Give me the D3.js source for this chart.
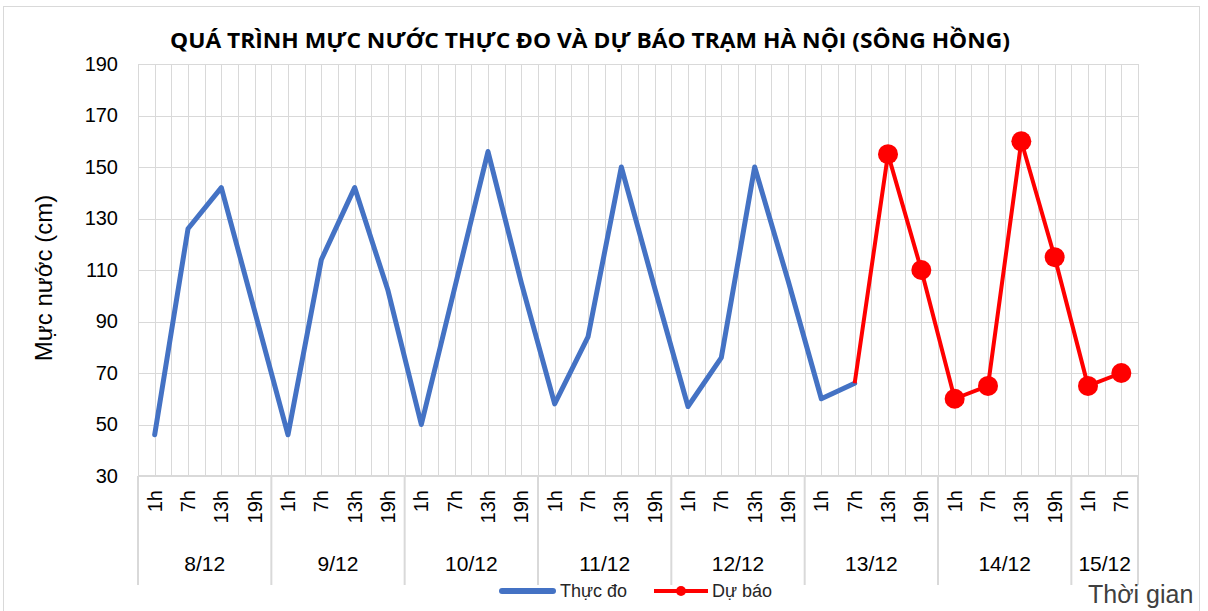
<!DOCTYPE html>
<html>
<head>
<meta charset="utf-8">
<script src="https://cdn.jsdelivr.net/npm/d3@7"></script>
<style>
  body { margin: 0; background: #fff; }
  svg { display: block; font-family: 'Liberation Sans', Arial, sans-serif; }
</style>
</head>
<body>
<main></main>
<script>
// data
const days = ['8/12', '9/12', '10/12', '11/12', '12/12', '13/12', '14/12', '15/12'];
const hoursPerDay = [4, 4, 4, 4, 4, 4, 4, 2];
const hourLabels = [
  '1h', '7h', '13h', '19h', '1h', '7h', '13h', '19h',
  '1h', '7h', '13h', '19h', '1h', '7h', '13h', '19h',
  '1h', '7h', '13h', '19h', '1h', '7h', '13h', '19h',
  '1h', '7h', '13h', '19h', '1h', '7h'
];
const observed = [46, 126, 142, 94, 46, 114, 142, 102, 50, 103, 156, 105,
                  58, 84, 150, 103, 57, 76, 150, 106, 60, 66];
// forecast begins right after the last observed point
const forecast = [155, 110, 60, 65, 160, 115, 65, 70];
const yTicks = [30, 50, 70, 90, 110, 130, 150, 170, 190];

const W = 1208, H = 611;
const plotLeft = 138, plotRight = 1138, plotTop = 64, plotBottom = 476;

const svg = d3.select('main').append('svg')
  .attr('width', W)
  .attr('height', H);

// outer chart frame
svg.append('rect')
  .attr('x', 3.5).attr('y', 6.5)
  .attr('width', 1196).attr('height', 640)
  .attr('fill', '#fff')
  .attr('stroke', '#d9d9d9');

const xScale = d3.scaleBand()
  .domain(d3.range(hourLabels.length))
  .range([plotLeft, plotRight]);
const bw = xScale.bandwidth();
const cx = i => xScale(i) + bw / 2;

const yScale = d3.scaleLinear()
  .domain([30, 190])
  .range([plotBottom, plotTop]);

// gridlines
const grid = svg.append('g').attr('stroke', '#d9d9d9').attr('stroke-width', 1);
grid.selectAll('.hg')
  .data(yTicks)
  .enter().append('line')
  .attr('x1', plotLeft).attr('x2', plotRight)
  .attr('y1', d => Math.round(yScale(d)) + 0.5)
  .attr('y2', d => Math.round(yScale(d)) + 0.5);

const vx = [];
hourLabels.forEach((h, i) => { vx.push(xScale(i)); vx.push(cx(i)); });
vx.push(plotRight);
grid.selectAll('.vg')
  .data(vx)
  .enter().append('line')
  .attr('x1', d => Math.round(d) + 0.5).attr('x2', d => Math.round(d) + 0.5)
  .attr('y1', plotTop).attr('y2', plotBottom);

// day separators in the category area
const dayStart = [0];
hoursPerDay.forEach((n, i) => dayStart.push(dayStart[i] + n));
const dayX = d => d < hourLabels.length ? xScale(d) : plotRight;
svg.append('g')
  .attr('stroke', '#d9d9d9').attr('stroke-width', 2)
  .selectAll('line')
  .data(dayStart)
  .enter().append('line')
  .attr('x1', dayX)
  .attr('x2', dayX)
  .attr('y1', plotBottom).attr('y2', 585);

svg.append('line')
  .attr('x1', plotLeft).attr('x2', plotRight)
  .attr('y1', plotBottom).attr('y2', plotBottom)
  .attr('stroke', '#d9d9d9').attr('stroke-width', 2);

// y axis labels
const yAxis = d3.axisLeft(yScale).tickValues(yTicks).tickSize(0).tickPadding(20);
const yG = svg.append('g')
  .attr('transform', `translate(${plotLeft}, 0)`)
  .call(yAxis);
yG.select('.domain').remove();
yG.selectAll('text')
  .attr('font-size', '20px')
  .attr('fill', '#000')
  .attr('font-family', "'Liberation Sans', Arial, sans-serif");

// hour labels (rotated)
svg.append('g')
  .selectAll('text')
  .data(hourLabels)
  .enter().append('text')
  .attr('transform', (d, i) => `translate(${cx(i)}, 490) rotate(-90)`)
  .attr('text-anchor', 'end')
  .attr('dy', '0.35em')
  .attr('font-size', '20px')
  .attr('fill', '#000')
  .text(d => d);

// day labels
svg.append('g')
  .selectAll('text')
  .data(days)
  .enter().append('text')
  .attr('x', (d, i) => (dayX(dayStart[i]) + dayX(dayStart[i + 1])) / 2)
  .attr('y', 571)
  .attr('text-anchor', 'middle')
  .attr('font-size', '21px')
  .attr('fill', '#000')
  .text(d => d);

// series
const line = d3.line()
  .x(d => cx(d.i))
  .y(d => yScale(d.v));

const obsPts = observed.map((v, i) => ({ i, v }));
const lastObs = obsPts[obsPts.length - 1];
const fcPts = forecast.map((v, k) => ({ i: observed.length + k, v }));

svg.append('path')
  .datum(obsPts)
  .attr('d', line)
  .attr('fill', 'none')
  .attr('stroke', '#4472C4')
  .attr('stroke-width', 5)
  .attr('stroke-linejoin', 'round')
  .attr('stroke-linecap', 'round');

svg.append('path')
  .datum([lastObs].concat(fcPts))
  .attr('d', line)
  .attr('fill', 'none')
  .attr('stroke', '#FF0000')
  .attr('stroke-width', 4)
  .attr('stroke-linejoin', 'round');

svg.append('g')
  .selectAll('circle')
  .data(fcPts)
  .enter().append('circle')
  .attr('cx', d => cx(d.i))
  .attr('cy', d => yScale(d.v))
  .attr('r', 10)
  .attr('fill', '#FF0000');

// title
svg.append('text')
  .attr('x', 590).attr('y', 48)
  .attr('text-anchor', 'middle')
  .attr('font-family', "'Open Sans', 'Liberation Sans', sans-serif")
  .attr('font-size', '21px')
  .attr('font-weight', 'bold')
  .attr('fill', '#000')
  .attr('textLength', 840)
  .attr('lengthAdjust', 'spacingAndGlyphs')
  .text('QUÁ TRÌNH MỰC NƯỚC THỰC ĐO VÀ DỰ BÁO TRẠM HÀ NỘI (SÔNG HỒNG)');

// y axis title
svg.append('text')
  .attr('transform', 'translate(52, 278) rotate(-90)')
  .attr('text-anchor', 'middle')
  .attr('font-size', '24px')
  .attr('fill', '#000')
  .text('Mực nước (cm)');

// x axis title
svg.append('text')
  .attr('x', 1088).attr('y', 603)
  .attr('font-size', '25px')
  .attr('fill', '#404040')
  .text('Thời gian');

// legend
const legend = svg.append('g');
legend.append('line')
  .attr('x1', 502).attr('x2', 553)
  .attr('y1', 591).attr('y2', 591)
  .attr('stroke', '#4472C4').attr('stroke-width', 6)
  .attr('stroke-linecap', 'round');
legend.append('text')
  .attr('x', 560).attr('y', 597)
  .attr('font-size', '18px')
  .attr('fill', '#262626')
  .text('Thực đo');
legend.append('line')
  .attr('x1', 654).attr('x2', 708)
  .attr('y1', 591).attr('y2', 591)
  .attr('stroke', '#FF0000').attr('stroke-width', 4);
legend.append('circle')
  .attr('cx', 681).attr('cy', 591).attr('r', 5)
  .attr('fill', '#FF0000');
legend.append('text')
  .attr('x', 712).attr('y', 597)
  .attr('font-size', '18px')
  .attr('fill', '#262626')
  .text('Dự báo');
</script>
</body>
</html>
